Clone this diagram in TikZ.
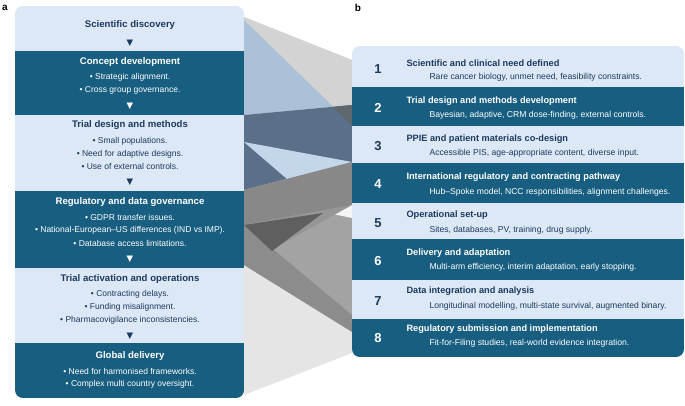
\documentclass[tikz,border=0pt]{standalone}
\usepackage{fontspec}
\setmainfont{Liberation Sans}
\newfontfamily\symfont{DejaVu Sans}
\definecolor{dband}{HTML}{175E80}
\definecolor{lband}{HTML}{DCE8F5}
\definecolor{navy}{HTML}{1C3A5E}
\tikzset{
 ttl/.style={font=\bfseries\fontsize{9.6}{10}\selectfont},
 bul/.style={font=\fontsize{8.5}{9}\selectfont},
 num/.style={font=\bfseries\fontsize{13}{14}\selectfont,text=navy},
 arr/.style={font=\symfont\fontsize{8.5}{8.5}\selectfont},
 rt/.style={anchor=west,font=\bfseries\fontsize{9.2}{10}\selectfont},
 rs/.style={anchor=west,font=\fontsize{8.6}{9}\selectfont},
}
\begin{document}
\begin{tikzpicture}[x=1pt,y=-1pt]
\useasboundingbox (0,0) rectangle (685,405);
% ribbons
\fill[fill={rgb,255:red,229;green,229;blue,229}] (244,17) -- (352,60) -- (352,353) -- (244,395) -- cycle;
\fill[fill={rgb,255:red,211;green,211;blue,211}] (244,17) -- (352,60) -- (352,105) -- (244,115) -- cycle;
\fill[fill={rgb,255:red,170;green,193;blue,215}] (244,20) -- (352,125) -- (352,105) -- (244,115) -- cycle;
\fill[fill={rgb,255:red,90;green,112;blue,136}] (244,115) -- (352,105) -- (352,162) -- (244,190) -- cycle;
\fill[fill={rgb,255:red,94;green,102;blue,110}] (333,107) -- (352,105) -- (352,125) -- cycle;
\fill[fill={rgb,255:red,163;green,163;blue,163}] (287,179) -- (352,162) -- (352,315) -- (244,230) -- (244,190) -- cycle;
\fill[fill={rgb,255:red,196;green,214;blue,233}] (244,142) -- (352,162) -- (287,179) -- cycle;
\fill[fill={rgb,255:red,136;green,136;blue,136}] (244,190) -- (352,162) -- (352,205) -- (244,225) -- cycle;
\fill[fill={rgb,255:red,245;green,245;blue,245}] (328,213) -- (352,205) -- (352,218) -- cycle;
\fill[fill={rgb,255:red,150;green,150;blue,150}] (244,225) -- (352,205) -- (244,265) -- cycle;
\fill[fill={rgb,255:red,140;green,140;blue,140}] (244,225) -- (352,315) -- (352,332) -- (244,265) -- cycle;
\fill[fill={rgb,255:red,95;green,95;blue,95}] (244,225) -- (323,213) -- (272,251) -- cycle;
% left panel
\begin{scope}
\clip[rounded corners=8pt] (15,6) rectangle (244,398);
\fill[lband] (15,6) rectangle (244,51);
\fill[dband] (15,51) rectangle (244,115);
\fill[lband] (15,115) rectangle (244,191);
\fill[dband] (15,191) rectangle (244,268);
\fill[lband] (15,268) rectangle (244,343);
\fill[dband] (15,343) rectangle (244,398);
\end{scope}
\node[font=\bfseries\fontsize{10}{10}\selectfont] (la) at (5,8) {a};
\node[font=\bfseries\fontsize{10}{10}\selectfont] (lb) at (358,8) {b};
\node[ttl,text=navy] (s1) at (130,25) {Scientific discovery};
\node[arr,text=navy] (a1) at (130,43) {▼};
\node[ttl,text=white] (s2) at (130,62) {Concept development};
\node[bul,text=white] (s2a) at (130,77) {• Strategic alignment.};
\node[bul,text=white] (s2b) at (130,90) {• Cross group governance.};
\node[arr,text=white] (a2) at (130,106) {▼};
\node[ttl,text=navy] (s3) at (130,125) {Trial design and methods};
\node[bul,text=navy] (s3a) at (130,141) {• Small populations.};
\node[bul,text=navy] (s3b) at (130,154) {• Need for adaptive designs.};
\node[bul,text=navy] (s3c) at (130,166) {• Use of external controls.};
\node[arr,text=navy] (a3) at (130,182) {▼};
\node[ttl,text=white] (s4) at (130,202) {Regulatory and data governance};
\node[bul,text=white] (s4a) at (130,217) {• GDPR transfer issues.};
\node[bul,text=white] (s4b) at (130,230) {• National-European–US differences (IND vs IMP).};
\node[bul,text=white] (s4c) at (130,243) {• Database access limitations.};
\node[arr,text=white] (a4) at (130,259) {▼};
\node[ttl,text=navy] (s5) at (130,279) {Trial activation and operations};
\node[bul,text=navy] (s5a) at (130,294) {• Contracting delays.};
\node[bul,text=navy] (s5b) at (130,307) {• Funding misalignment.};
\node[bul,text=navy] (s5c) at (130,320) {• Pharmacovigilance inconsistencies.};
\node[arr,text=navy] (a5) at (130,336) {▼};
\node[ttl,text=white] (s6) at (130,356) {Global delivery};
\node[bul,text=white] (s6a) at (130,371) {• Need for harmonised frameworks.};
\node[bul,text=white] (s6b) at (130,384) {• Complex multi country oversight.};
% right panel
\begin{scope}
\clip[rounded corners=8pt] (352,46) rectangle (684,357);
\fill[lband] (352,46) rectangle (684,87);
\fill[dband] (352,87) rectangle (684,126);
\fill[lband] (352,126) rectangle (684,163);
\fill[dband] (352,163) rectangle (684,203);
\fill[lband] (352,203) rectangle (684,239);
\fill[dband] (352,239) rectangle (684,280);
\fill[lband] (352,280) rectangle (684,319);
\fill[dband] (352,319) rectangle (684,357);
\end{scope}
\foreach \n/\ny/\ty/\sy/\t/\s/\c in {
1/69/63/77/Scientific and clinical need defined/{Rare cancer biology, unmet need, feasibility constraints.}/navy,
2/108/101/115/Trial design and methods development/{Bayesian, adaptive, CRM dose-finding, external controls.}/white,
3/146/139/153/PPIE and patient materials co-design/{Accessible PIS, age-appropriate content, diverse input.}/navy,
4/184/177/192/International regulatory and contracting pathway/{Hub–Spoke model, NCC responsibilities, alignment challenges.}/white,
5/223/215/230/Operational set-up/{Sites, databases, PV, training, drug supply.}/navy,
6/261/253/267/Delivery and adaptation/{Multi-arm efficiency, interim adaptation, early stopping.}/white,
7/301/291/306/Data integration and analysis/{Longitudinal modelling, multi-state survival, augmented binary.}/navy,
8/338/329/343/Regulatory submission and implementation/{Fit-for-Filing studies, real-world evidence integration.}/white}{
\node[num,text=\c] (n\n) at (378,\ny) {\n};
\node[rt,text=\c] (t\n) at (403,\ty) {\t};
\node[rs,text=\c] (d\n) at (426,\sy) {\s};
}
\end{tikzpicture}
\end{document}
